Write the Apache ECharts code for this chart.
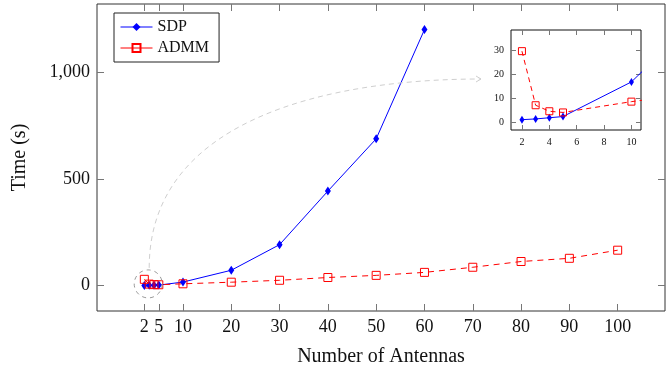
<!DOCTYPE html>
<html>
<head>
<meta charset="utf-8">
<script src="https://cdn.jsdelivr.net/npm/echarts@6/dist/echarts.min.js"></script>
<style>
  html, body { margin: 0; padding: 0; background: #fff; }
  #chart { width: 672px; height: 373px; }
</style>
</head>
<body>
<div id="chart"></div>
<script>
// values
var sdpAntennas = [2, 3, 4, 5, 10, 20, 30, 40, 50, 60];
var sdpTime = [1.0, 1.3, 1.8, 2.3, 16.7, 72, 192, 443, 688, 1200];
var admmAntennas = [2, 3, 4, 5, 10, 20, 30, 40, 50, 60, 70, 80, 90, 100];
var admmTime = [29.5, 7, 4.5, 4, 8.5, 16, 25, 38, 48, 62, 86, 113, 128, 166];

var mainXTicks = [2, 5, 10, 20, 30, 40, 50, 60, 70, 80, 90, 100];
var mainYTicks = [0, 500, 1000];
var zoomXTicks = [2, 4, 6, 8, 10];
var zoomYTicks = [0, 10, 20, 30];

var FONT = 'Liberation Serif';
var BLUE = '#0000ff', RED = '#ff0000';

function pairs(xs, ys) {
  return xs.map(function (x, i) { return [x, ys[i]]; });
}

// one axis; mirror = the tick-only copy on the opposite side
function axis(gridIndex, pos, min, max, ticks, tickLen, fontSize, mirror) {
  return {
    type: 'value', gridIndex: gridIndex, position: pos, min: min, max: max,
    splitLine: { show: false },
    axisLine: { show: false, onZero: false },
    axisTick: { show: true, inside: true, length: tickLen, customValues: ticks,
                lineStyle: { color: '#777', width: 1 } },
    axisLabel: { show: !mirror, customValues: ticks, margin: 7,
                 fontFamily: FONT, fontSize: fontSize, color: '#111',
                 formatter: function (v) { return v >= 1000 ? (v / 1000) + ',' + String(v % 1000).padStart(3, '0') : String(v); } }
  };
}

var chart = echarts.init(document.getElementById('chart'));

var xMain = axis(0, 'bottom', -7.8, 109.8, mainXTicks, 7, 18, false);
xMain.name = 'Number of Antennas';
xMain.nameLocation = 'middle';
xMain.nameGap = 36;
xMain.nameTextStyle = { fontFamily: FONT, fontSize: 20, color: '#111' };

var yMain = axis(0, 'left', -119, 1320, mainYTicks, 7, 18, false);
yMain.name = 'Time (s)';
yMain.nameLocation = 'middle';
yMain.nameGap = 67;
yMain.nameTextStyle = { fontFamily: FONT, fontSize: 20, color: '#111' };

var option = {
  backgroundColor: '#fff',
  animation: false,
  grid: [
    { left: 97, top: 4, right: 7, bottom: 62, show: true, borderColor: '#333', borderWidth: 1, backgroundColor: 'transparent' },
    { left: 511, top: 30, width: 130, height: 100, show: true, borderColor: '#111', borderWidth: 1, backgroundColor: '#fff' }
  ],
  legend: {
    orient: 'vertical', left: 114, top: 13,
    padding: [6, 10, 6, 6], itemGap: 5, itemWidth: 32, itemHeight: 10,
    borderColor: '#222', borderWidth: 1, backgroundColor: '#fff',
    textStyle: { fontFamily: FONT, fontSize: 16, color: '#111' },
    data: [
      { name: 'SDP', lineStyle: { width: 1 } },
      { name: 'ADMM', lineStyle: { type: 'solid', width: 1 } }
    ]
  },
  xAxis: [
    xMain,
    axis(0, 'top', -7.8, 109.8, mainXTicks, 7, 18, true),
    axis(1, 'bottom', 1.2, 10.7, zoomXTicks, 5, 10, false),
    axis(1, 'top', 1.2, 10.7, zoomXTicks, 5, 10, true)
  ],
  yAxis: [
    yMain,
    axis(0, 'right', -119, 1320, mainYTicks, 7, 18, true),
    axis(1, 'left', -3.3, 38.3, zoomYTicks, 5, 10, false),
    axis(1, 'right', -3.3, 38.3, zoomYTicks, 5, 10, true)
  ],
  series: [
    { name: 'SDP', type: 'line', xAxisIndex: 0, yAxisIndex: 0, data: pairs(sdpAntennas, sdpTime),
      symbol: 'diamond', symbolSize: [6, 9], color: BLUE,
      lineStyle: { color: BLUE, width: 1 }, itemStyle: { color: BLUE } },
    { name: 'ADMM', type: 'line', xAxisIndex: 0, yAxisIndex: 0, data: pairs(admmAntennas, admmTime),
      symbol: 'rect', symbolSize: 8, color: RED,
      lineStyle: { color: RED, width: 1, type: [6, 5] },
      itemStyle: { color: 'rgba(255,255,255,0)', borderColor: RED, borderWidth: 1 } },
    { name: 'SDP', type: 'line', xAxisIndex: 2, yAxisIndex: 2, data: pairs(sdpAntennas, sdpTime), clip: true,
      symbol: 'diamond', symbolSize: [5, 8], color: BLUE,
      lineStyle: { color: BLUE, width: 1 }, itemStyle: { color: BLUE } },
    { name: 'ADMM', type: 'line', xAxisIndex: 2, yAxisIndex: 2, data: pairs(admmAntennas, admmTime), clip: true,
      symbol: 'rect', symbolSize: 7, color: RED,
      lineStyle: { color: RED, width: 1, type: [5, 4] },
      itemStyle: { color: 'rgba(255,255,255,0)', borderColor: RED, borderWidth: 1 } }
  ]
};

chart.setOption(option);

// zoom marker: dashed circle round the small-N cluster and a curved arrow to the inset
var c = chart.convertToPixel({ xAxisIndex: 0, yAxisIndex: 0 }, [2.8, 8]);
var r = 14;
var tip = [511 - 30, 30 + 49];
var start = [c[0] + 1, c[1] - r - 2];
chart.setOption({
  graphic: [
    { type: 'circle', shape: { cx: c[0], cy: c[1], r: r },
      style: { fill: 'none', stroke: '#999', lineWidth: 1, lineDash: [4, 4] }, z: 10 },
    { type: 'bezierCurve',
      shape: { x1: start[0], y1: start[1], cpx1: start[0], cpy1: start[1] - 150,
               cpx2: tip[0] - 150, cpy2: tip[1], x2: tip[0], y2: tip[1] },
      style: { fill: 'none', stroke: '#cfcfcf', lineWidth: 1, lineDash: [5, 4] }, z: 10 },
    { type: 'polyline',
      shape: { points: [[tip[0] - 5, tip[1] - 3], [tip[0], tip[1]], [tip[0] - 5, tip[1] + 3]] },
      style: { fill: 'none', stroke: '#cfcfcf', lineWidth: 1 }, z: 10 }
  ]
});
</script>
</body>
</html>
